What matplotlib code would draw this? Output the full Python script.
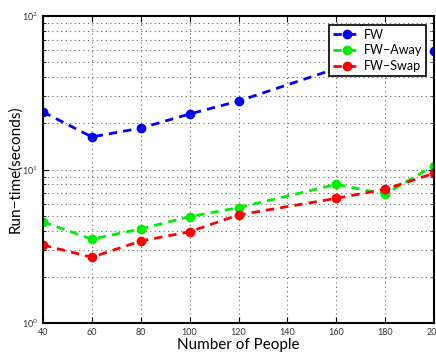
import matplotlib
matplotlib.use("Agg")
import matplotlib.pyplot as plt
from matplotlib.ticker import LogLocator, NullFormatter

plt.rcParams['font.family'] = ['Lato', 'DejaVu Sans']

people = [40, 60, 80, 100, 120, 160, 180, 200]
fw = [23.7, 16.3, 18.6, 23.0, 27.9, 45.5, 52.0, 59.0]
fw_away = [4.55, 3.52, 4.1, 4.93, 5.64, 8.0, 6.92, 10.6]
fw_swap = [3.22, 2.68, 3.42, 3.93, 5.06, 6.49, 7.43, 9.45]
xticks = [40, 60, 80, 100, 120, 140, 160, 180, 200]

fig = plt.figure(figsize=(4.36, 3.52), dpi=100)
ax = fig.add_axes([43/436, 1-323/352, (434-43)/436, (323-16)/352])

style = dict(linestyle='--', linewidth=2, marker='o', markersize=6, dashes=(3, 2.2))
ax.plot(people, fw, color='#0000ff', label='FW', **style)
ax.plot(people, fw_away, color='#00ee00', label='FW\u2212Away', **style)
ax.plot(people, fw_swap, color='#ff0000', label='FW\u2212Swap', **style)

ax.set_yscale('log')
ax.set_ylim(1, 100)
ax.set_xlim(40, 200)
ax.set_xticks(xticks)
ax.yaxis.set_major_locator(LogLocator(base=10, numticks=5))
ax.yaxis.set_minor_locator(LogLocator(base=10, subs=range(2, 10), numticks=20))
ax.yaxis.set_minor_formatter(NullFormatter())

ax.grid(True, which='major', linestyle=(0, (1, 3)), color='#666666', linewidth=0.8)
ax.grid(True, which='minor', axis='y', linestyle=(0, (1, 3)), color='#666666', linewidth=0.8)

ax.tick_params(which='both', direction='in', top=True, right=True, labelsize=6.5, colors='black', labelcolor='#333333')
ax.tick_params(which='major', length=4)
ax.tick_params(which='minor', length=2)
for s in ax.spines.values():
    s.set_linewidth(1.5)

ax.set_xlabel('Number of People', fontsize=11, labelpad=1)
ax.set_ylabel('Run\u2212time(seconds)', fontsize=11, labelpad=0)

leg = ax.legend(loc='upper right', fancybox=False, framealpha=1, edgecolor='black',
                fontsize=9, borderaxespad=0.35, handlelength=2.2, handletextpad=0.3,
                borderpad=0.3, labelspacing=0.3, bbox_to_anchor=(0.992, 0.985))
leg.get_frame().set_linewidth(1.2)

fig.savefig('out.png', dpi=100)
